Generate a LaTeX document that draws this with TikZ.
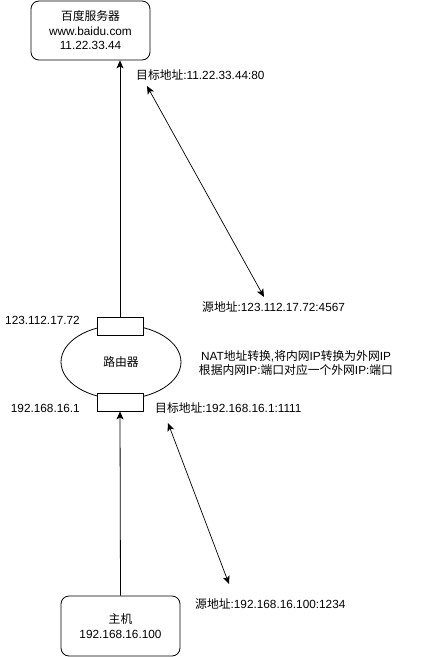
\documentclass[tikz,border=0pt]{standalone}
\usepackage{fontspec}
\setmainfont{Liberation Sans}
\newfontfamily\cjk{Noto Sans CJK SC}
\usetikzlibrary{arrows.meta,shapes.geometric}
\begin{document}
\begin{tikzpicture}[x=1pt,y=-1pt,
  every node/.style={font=\fontsize{11.8}{14.5}\selectfont},
  rbox/.style={draw,line width=0.8pt,rounded corners=8pt,align=center,inner sep=0pt},
  port/.style={draw,line width=0.8pt,fill=white,minimum width=46pt,minimum height=18pt,inner sep=0pt},
  lbl/.style={inner sep=0pt},
  conn/.style={line width=0.8pt,-{Stealth[length=8pt,width=7pt,inset=2pt]}},
  dconn/.style={line width=0.7pt,{Stealth[length=8pt,width=7pt,inset=2pt]}-{Stealth[length=8pt,width=7pt,inset=2pt]}}]
\useasboundingbox (0,0) rectangle (421,657);
\node[rbox,minimum width=119pt,minimum height=59pt] (srv) at (90.5,30.5) {{\cjk 百度服务器}\\www.baidu.com\\11.22.33.44};
\node[draw,line width=0.8pt,ellipse,minimum width=120pt,minimum height=74pt,inner sep=0pt] (rt) at (121,362) {{\cjk 路由器}};
\node[port] (r1) at (120,326) {};
\node[port] (r2) at (120,402) {};
\node[rbox,minimum width=119pt,minimum height=60pt] (host) at (120.5,626) {{\cjk 主机}\\192.168.16.100};
\draw[conn] (r1.north) -- (r1.north |- srv.south);
\draw[conn] (host.north) -- (r2.south);
\node[lbl,anchor=east] (l1) at (80,320) {123.112.17.72};
\node[lbl,anchor=east] (l2) at (80,408) {192.168.16.1};
\node[lbl,anchor=west] (d1) at (136,75) {{\cjk 目标地址}:11.22.33.44:80};
\node[lbl,anchor=west] (s1) at (202,307) {{\cjk 源地址}:123.112.17.72:4567};
\node[lbl,align=center] (nat) at (296,363) {NAT{\cjk 地址转换},{\cjk 将内网}IP{\cjk 转换为外网}IP\\{\cjk 根据内网}IP:{\cjk 端口对应一个外网}IP:{\cjk 端口}};
\node[lbl,anchor=west] (d2) at (155,408) {{\cjk 目标地址}:192.168.16.1:1111};
\node[lbl,anchor=west] (s2) at (195,604) {{\cjk 源地址}:192.168.16.100:1234};
\coordinate (a1) at (147,86);
\coordinate (a2) at (264,297);
\coordinate (b1) at (168,423);
\coordinate (b2) at (229,584);
\draw[dconn] (a1) -- (a2);
\draw[dconn] (b1) -- (b2);
\end{tikzpicture}
\end{document}
